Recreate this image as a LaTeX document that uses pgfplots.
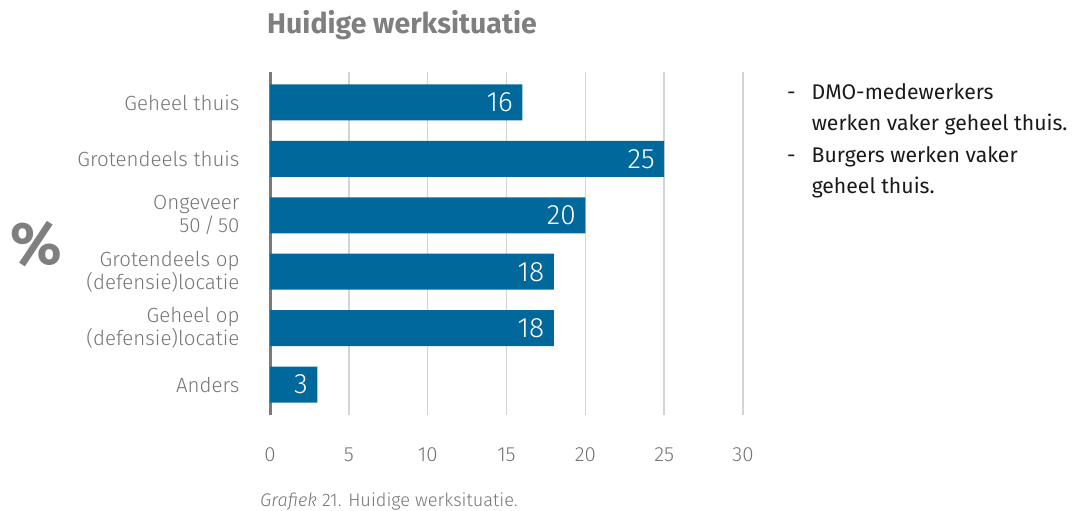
\documentclass[border=0pt]{standalone}
\usepackage{fontspec}
\setmainfont{Fira Sans}
\newfontfamily\lightfont{Fira Sans Light}
\usepackage{pgfplots}
\pgfplotsset{compat=1.18}
\definecolor{barblue}{HTML}{01689B}
\definecolor{titlegray}{HTML}{7F7F7F}
\definecolor{labgray}{HTML}{757575}
\definecolor{axgray}{HTML}{7A7A7A}
\definecolor{gridgray}{HTML}{D4D4D4}
\definecolor{notetext}{HTML}{1A1A1A}
\begin{document}
\begin{tikzpicture}[x=1pt,y=1pt]
\useasboundingbox (0,0) rectangle (1076,511);
\begin{axis}[
  at={(270pt,96pt)}, anchor=south west,
  scale only axis, width=473pt, height=343pt,
  xbar, bar width=36pt,
  xmin=0, xmax=30, ymin=-0.54, ymax=5.54,
  xtick={0,5,...,30},
  ytick={0,1,2,3,4,5},
  yticklabels={Anders,{Geheel op\\(defensie)locatie},{Grotendeels op\\(defensie)locatie},{Ongeveer\\50\,/\,50},Grotendeels thuis,Geheel thuis},
  axis x line*=bottom, axis y line*=left,
  x axis line style={draw=none},
  y axis line style={draw=axgray, line width=3pt},
  xmajorgrids, major grid style={gridgray, line width=1.5pt},
  major tick length=0pt,
  /pgf/number format/assume math mode=true,
  xticklabel style={font=\lightfont\fontsize{20.5}{22}\selectfont, text=labgray, yshift=-29pt},
  yticklabel style={font=\lightfont\fontsize{20.5}{23}\selectfont, text=labgray, align=right, xshift=-27pt},
  nodes near coords,
  every node near coord/.append style={anchor=east, text=white, font=\lightfont\fontsize{28}{30}\selectfont, xshift=-6pt},
  clip=false,
]
\addplot[fill=barblue, draw=none] coordinates {(3,0) (18,1) (18,2) (20,3) (25,4) (16,5)};
\end{axis}
\node[anchor=base west, text=titlegray, font=\fontsize{28.5}{30}\selectfont\bfseries, inner sep=0] at (267,477) {Huidige werksituatie};
\node[anchor=center, text=titlegray, font=\fontsize{60}{60}\selectfont\bfseries, inner sep=0] at (36,267) {\%};
\node[anchor=north west, text=notetext, font=\fontsize{21.2}{31.5}\selectfont, inner sep=0, align=left] at (787,434)
 {\begin{tabular}{@{}l@{\hspace{16pt}}l@{}}
 - & DMO-medewerkers\\
   & werken vaker geheel thuis.\\
 - & Burgers werken vaker\\
   & geheel thuis.
 \end{tabular}};
\node[anchor=base west, text=labgray, font=\lightfont\fontsize{18.2}{19}\selectfont, inner sep=0] at (260,4) {\textit{Grafiek} 21. Huidige werksituatie.};
\end{tikzpicture}
\end{document}
